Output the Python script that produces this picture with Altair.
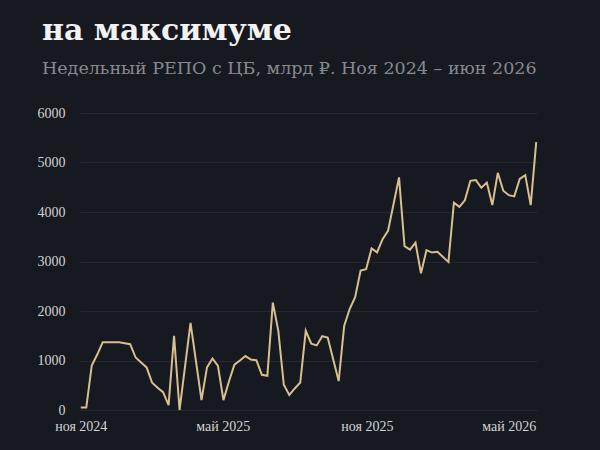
import altair as alt
import pandas as pd

dates = [
    "2024-11-01", "2024-11-08", "2024-11-15", "2024-11-22", "2024-11-29",
    "2024-12-06", "2024-12-13", "2024-12-20", "2024-12-27", "2025-01-03",
    "2025-01-10", "2025-01-17", "2025-01-24", "2025-01-31", "2025-02-07",
    "2025-02-14", "2025-02-21", "2025-02-28", "2025-03-07", "2025-03-21",
    "2025-04-04", "2025-04-11", "2025-04-18", "2025-04-25", "2025-05-02",
    "2025-05-09", "2025-05-16", "2025-05-23", "2025-05-30", "2025-06-06",
    "2025-06-13", "2025-06-20", "2025-06-27", "2025-07-04", "2025-07-11",
    "2025-07-18", "2025-07-25", "2025-08-01", "2025-08-08", "2025-08-15",
    "2025-08-22", "2025-08-29", "2025-09-05", "2025-09-12", "2025-09-26",
    "2025-10-03", "2025-10-10", "2025-10-17", "2025-10-24", "2025-10-31",
    "2025-11-07", "2025-11-14", "2025-11-21", "2025-11-28", "2025-12-12",
    "2025-12-19", "2025-12-26", "2026-01-02", "2026-01-09", "2026-01-16",
    "2026-01-23", "2026-01-30", "2026-02-13", "2026-02-20", "2026-02-27",
    "2026-03-06", "2026-03-13", "2026-03-20", "2026-03-27", "2026-04-03",
    "2026-04-10", "2026-04-17", "2026-04-24", "2026-05-01", "2026-05-08",
    "2026-05-15", "2026-05-22", "2026-05-29", "2026-06-05",
]

repo = [
    50, 50, 900, 1120, 1370,
    1370, 1370, 1370, 1350, 1330,
    1060, 960, 860, 550, 450,
    360, 100, 1500, 0, 1760,
    200, 860, 1040, 890, 200,
    575, 915, 1000, 1090, 1020,
    1005, 710, 690, 2170, 1600,
    510, 305, 435, 555, 1600,
    1340, 1305, 1490, 1465, 585,
    1700, 2040, 2280, 2815, 2845,
    3265, 3185, 3450, 3620, 4700,
    3310, 3240, 3380, 2760, 3230,
    3180, 3195, 2990, 4190, 4105,
    4235, 4630, 4645, 4490, 4595,
    4140, 4790, 4430, 4340, 4315,
    4670, 4745, 4140, 5410,
]

y_ticks = [0, 1000, 2000, 3000, 4000, 5000, 6000]
x_ticks = [
    alt.DateTime(year=2024, month=11, date=1),
    alt.DateTime(year=2025, month=5, date=1),
    alt.DateTime(year=2025, month=11, date=1),
    alt.DateTime(year=2026, month=5, date=1),
]

title_text = "на максимуме"
subtitle_text = "Недельный РЕПО с ЦБ, млрд ₽. Ноя 2024 – июн 2026"

df = pd.DataFrame({"date": dates, "value": repo})

BG = "#161920"
LINE = "#d8bf8e"

chart = (
    alt.Chart(df)
    .mark_line(color=LINE, strokeWidth=2)
    .encode(
        x=alt.X(
            "date:T",
            scale=alt.Scale(
                domain=[
                    alt.DateTime(year=2024, month=10, date=31),
                    alt.DateTime(year=2026, month=6, date=6),
                ]
            ),
            axis=alt.Axis(
                values=x_ticks,
                labelExpr="(month(datum.value) == 10 ? 'ноя' : 'май') + ' ' + year(datum.value)",
                title=None,
                grid=False,
                domain=False,
                ticks=False,
                labelPadding=9,
                labelFont="Liberation Serif",
                labelFontSize=14,
                labelColor="#d4d4d4",
                labelAlign="center",
            ),
        ),
        y=alt.Y(
            "value:Q",
            scale=alt.Scale(domain=[0, 6000], nice=False),
            axis=alt.Axis(
                values=y_ticks,
                format="d",
                title=None,
                domain=False,
                ticks=False,
                labelPadding=15,
                labelFont="Liberation Serif",
                labelFontSize=14,
                labelColor="#d4d4d4",
                gridColor="#24272e",
                gridWidth=1,
            ),
        ),
    )
    .properties(
        width=457,
        height=297,
        background=BG,
        padding={"left": 80, "top": 113, "right": 63, "bottom": 40},
        autosize=alt.AutoSizeParams(type="none"),
        title=alt.TitleParams(
            text=title_text,
            subtitle=subtitle_text,
            anchor="start",
            frame="group",
            dx=-38,
            offset=29,
            font="DejaVu Serif",
            fontSize=30,
            fontWeight="bold",
            color="#f2f2f2",
            subtitleFont="DejaVu Serif",
            subtitleFontSize=17.5,
            subtitleColor="#878a91",
            subtitlePadding=14,
        ),
    )
    .configure_view(stroke=None)
)

chart.save("out.html", embed_options={"renderer": "svg", "actions": False})
